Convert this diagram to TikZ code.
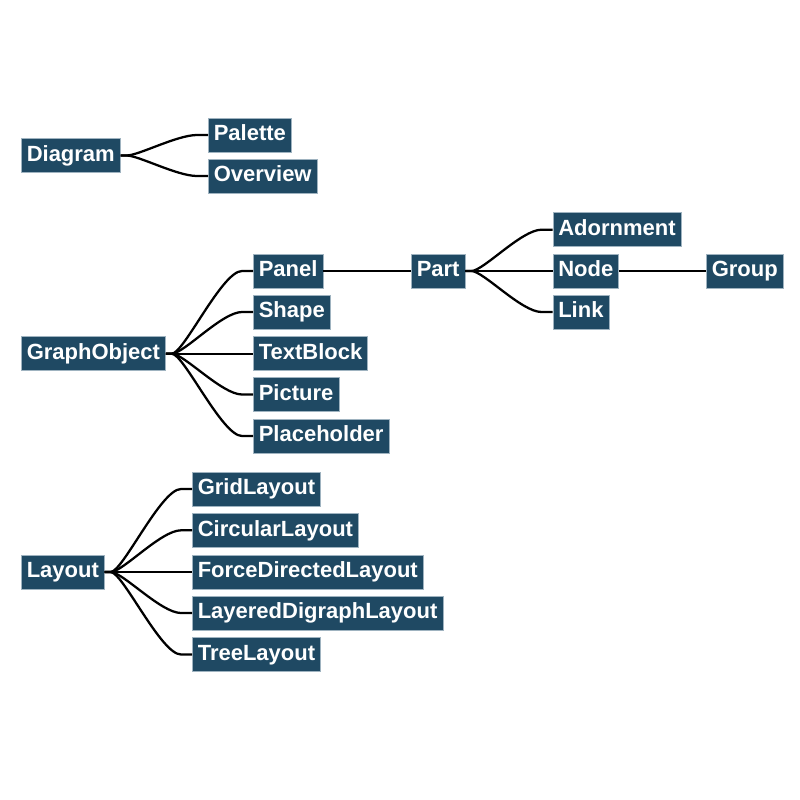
\documentclass[tikz,border=0pt]{standalone}
\usepackage{fontspec}
\setmainfont{Liberation Sans}
\usetikzlibrary{calc}
\definecolor{boxfill}{HTML}{1F4963}
\definecolor{boxedge}{HTML}{9FB3C0}
\newcommand{\fanlink}[2]{\draw[treelink] (#1.east) -- ++(6,0) .. controls +(12,0) and +(-20,0) .. ($(#2.west)+(-11,0)$) -- (#2.west);}
\begin{document}
\begin{tikzpicture}[x=0.75pt,y=-0.75pt,
  cls/.style={rectangle, fill=boxfill, draw=boxedge, line width=0.45pt, text=white,
    font=\fontsize{16.5pt}{18pt}\selectfont\bfseries, text height=11.85pt, text depth=3.3pt,
    inner xsep=4.1pt, inner ysep=5.15pt, anchor=west},
  treelink/.style={draw=black, line width=1.7pt}]
\useasboundingbox (0,0) rectangle (800,800);
% Diagram tree
\node[cls] (diagram) at (21,155.5) {Diagram};
\node[cls] (palette) at (208,135) {Palette};
\node[cls] (overview) at (208,176) {Overview};
% GraphObject tree
\node[cls] (graphobject) at (21,353.7) {GraphObject};
\node[cls] (panel) at (253,271) {Panel};
\node[cls] (shape) at (253,312) {Shape};
\node[cls] (textblock) at (253,353.7) {TextBlock};
\node[cls] (picture) at (253,394.5) {Picture};
\node[cls] (placeholder) at (253,436) {Placeholder};
\node[cls] (part) at (411,271) {Part};
\node[cls] (adornment) at (552.5,229.7) {Adornment};
\node[cls] (nodecls) at (552.5,271) {Node};
\node[cls] (link) at (552.5,312) {Link};
\node[cls] (group) at (706,271) {Group};
% Layout tree
\node[cls] (layout) at (21,572) {Layout};
\node[cls] (grid) at (192,489) {GridLayout};
\node[cls] (circular) at (192,530.3) {CircularLayout};
\node[cls] (force) at (192,572) {ForceDirectedLayout};
\node[cls] (layered) at (192,613) {LayeredDigraphLayout};
\node[cls] (treel) at (192,654.5) {TreeLayout};
% connectors
\fanlink{diagram}{palette}
\fanlink{diagram}{overview}
\fanlink{graphobject}{panel}
\fanlink{graphobject}{shape}
\fanlink{graphobject}{textblock}
\fanlink{graphobject}{picture}
\fanlink{graphobject}{placeholder}
\draw[treelink] (panel.east) -- (part.west);
\fanlink{part}{adornment}
\fanlink{part}{nodecls}
\fanlink{part}{link}
\draw[treelink] (nodecls.east) -- (group.west);
\fanlink{layout}{grid}
\fanlink{layout}{circular}
\fanlink{layout}{force}
\fanlink{layout}{layered}
\fanlink{layout}{treel}
\end{tikzpicture}
\end{document}
